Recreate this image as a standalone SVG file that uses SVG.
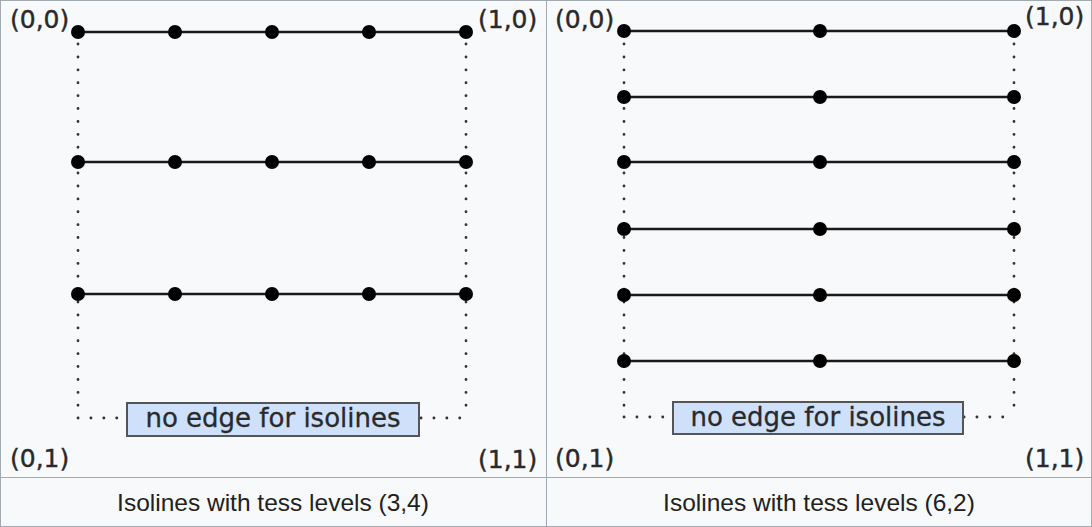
<svg xmlns="http://www.w3.org/2000/svg" width="1092" height="527" viewBox="0 0 1092 527">
<style>
.ln{stroke:#1a1a1a;stroke-width:2.5;fill:none}
.dt{stroke:#333;stroke-width:2.8;stroke-dasharray:0.1 12.8;stroke-linecap:round;fill:none}
.pt{fill:#000}
.lbl{font-family:"DejaVu Sans",sans-serif;font-size:25px;fill:#2a2a2a;stroke:#2a2a2a;stroke-width:0.4}
.box{fill:#cfe0fb;stroke:#555;stroke-width:2}
.bt{font-family:"DejaVu Sans",sans-serif;font-size:26px;fill:#2a2a2a;stroke:#2a2a2a;stroke-width:0.3;text-anchor:middle}
.cap{font-family:"Liberation Sans",Arial,sans-serif;font-size:24.5px;fill:#202122;text-anchor:middle}
</style>
<defs>
<circle id="d" r="7" class="pt"/>
</defs>
<rect x="0.5" y="0.5" width="1091" height="526" fill="#f8f9fa" stroke="#a2a9b1"/>
<line x1="546.5" y1="0" x2="546.5" y2="527" stroke="#a2a9b1"/>
<line x1="0" y1="477.5" x2="1092" y2="477.5" stroke="#a2a9b1"/>
<g id="connectors">
<path class="dt" d="M78 44V418M466 44V418M78 418H126M421 418H466"/>
<path class="ln" d="M78 32H466M78 162H466M78 294H466"/>
<path class="dt" d="M624 44V417M1014 44V417M624 417H672M964 417H1014"/>
<path class="ln" d="M624 31H1014M624 97H1014M624 162H1014M624 229H1014M624 295H1014M624 361H1014"/>
</g>
<g id="left-points">
<use href="#d" x="78" y="32"/><use href="#d" x="175" y="32"/><use href="#d" x="272" y="32"/><use href="#d" x="369" y="32"/><use href="#d" x="466" y="32"/>
<use href="#d" x="78" y="162"/><use href="#d" x="175" y="162"/><use href="#d" x="272" y="162"/><use href="#d" x="369" y="162"/><use href="#d" x="466" y="162"/>
<use href="#d" x="78" y="294"/><use href="#d" x="175" y="294"/><use href="#d" x="272" y="294"/><use href="#d" x="369" y="294"/><use href="#d" x="466" y="294"/>
</g>
<g id="right-points">
<use href="#d" x="624" y="31"/><use href="#d" x="820" y="31"/><use href="#d" x="1014" y="31"/>
<use href="#d" x="624" y="97"/><use href="#d" x="820" y="97"/><use href="#d" x="1014" y="97"/>
<use href="#d" x="624" y="162"/><use href="#d" x="820" y="162"/><use href="#d" x="1014" y="162"/>
<use href="#d" x="624" y="229"/><use href="#d" x="820" y="229"/><use href="#d" x="1014" y="229"/>
<use href="#d" x="624" y="295"/><use href="#d" x="820" y="295"/><use href="#d" x="1014" y="295"/>
<use href="#d" x="624" y="361"/><use href="#d" x="820" y="361"/><use href="#d" x="1014" y="361"/>
</g>
<g id="left-labels">
<text class="lbl" x="10" y="28">(0,0)</text>
<text class="lbl" x="478" y="28">(1,0)</text>
<text class="lbl" x="10" y="467">(0,1)</text>
<text class="lbl" x="478" y="468">(1,1)</text>
</g>
<g id="left-box">
<rect class="box" x="127" y="403" width="292" height="33"/>
<text class="bt" x="273" y="427">no edge for isolines</text>
</g>
<g id="right-labels">
<text class="lbl" x="555" y="28">(0,0)</text>
<text class="lbl" x="1025" y="25">(1,0)</text>
<text class="lbl" x="555" y="467">(0,1)</text>
<text class="lbl" x="1025" y="467">(1,1)</text>
</g>
<g id="right-box">
<rect class="box" x="673" y="402" width="290" height="32"/>
<text class="bt" x="818" y="426">no edge for isolines</text>
</g>
<g id="captions">
<text class="cap" x="273" y="511">Isolines with tess levels (3,4)</text>
<text class="cap" x="819" y="511">Isolines with tess levels (6,2)</text>
</g>
</svg>
